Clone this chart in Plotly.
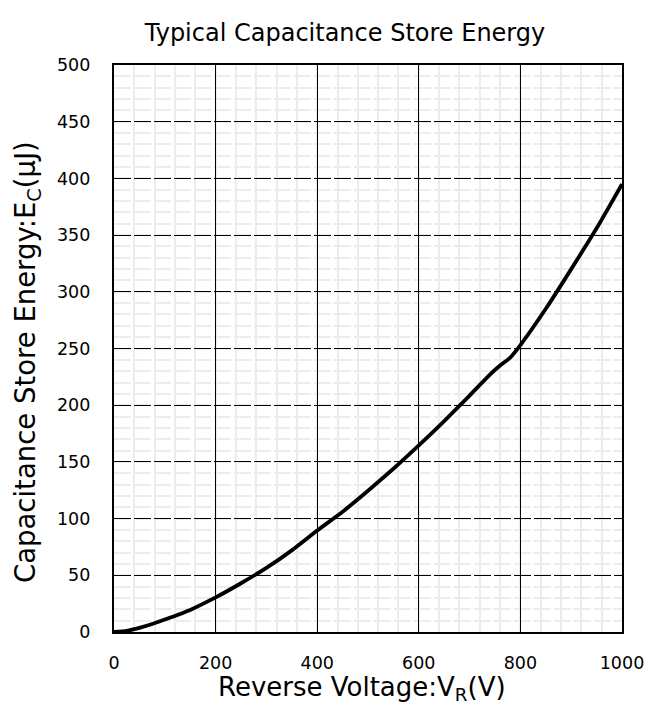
import plotly.graph_objects as go

voltage = [0, 25, 50, 75, 100, 150, 200, 250, 300, 350, 400, 450, 500, 550, 600,
           650, 700, 740, 760, 780, 800, 850, 900, 950, 1000]
energy = [0, 1, 3.6, 7, 11, 19.5, 30.5, 43, 56.5, 72, 89.5, 106, 124.5, 144, 164.5,
          186, 208.5, 227, 235, 242, 253, 285, 320, 356, 395]

x_ticks = [0, 200, 400, 600, 800, 1000]
y_ticks = [0, 50, 100, 150, 200, 250, 300, 350, 400, 450, 500]

FONT = "DejaVu Sans"
W, H = 653, 696  # page body adds an 8px offset
L, R, T, B = 106, 39, 57, 72
PW, PH = W - L - R, H - T - B

fig = go.Figure()
fig.add_trace(go.Scatter(x=voltage, y=energy, mode="lines",
                         line=dict(color="black", width=3.8, shape="spline", smoothing=0.5),
                         showlegend=False, hoverinfo="skip"))

fig.update_layout(
    width=W, height=H,
    margin=dict(l=L, r=R, t=T, b=B, autoexpand=False),
    paper_bgcolor="white", plot_bgcolor="white",
    font=dict(family=FONT, color="black"),
    title=dict(text="Typical Capacitance Store Energy", x=337 / W, xanchor="center",
               y=1 - 25 / H, yanchor="middle", font=dict(size=24, family=FONT, color="black")),
    annotations=[
        dict(text="Reverse Voltage:V<sub>R</sub>(V)", xref="paper", yref="paper",
             x=(354 - L) / PW, y=(H - B - 680) / PH, xanchor="center", yanchor="middle",
             showarrow=False, font=dict(size=26, family=FONT, color="black")),
        dict(text="Capacitance Store Energy:E<sub>C</sub>(μJ)", xref="paper", yref="paper",
             x=(19 - L) / PW, y=(H - B - 354) / PH, xanchor="center", yanchor="middle",
             textangle=-90, showarrow=False, font=dict(size=27.5, family=FONT, color="black")),
    ],
)
fig.update_xaxes(
    range=[0, 1000], tickvals=x_ticks, ticktext=[str(v) for v in x_ticks],
    showgrid=True, gridcolor="black", gridwidth=1.3,
    minor=dict(dtick=40, tick0=0, showgrid=True, gridcolor="#ececec", gridwidth=2),
    showline=True, linecolor="black", linewidth=2.2, mirror=True,
    zeroline=False, ticks="", ticklabelstandoff=14, automargin=False,
    tickfont=dict(size=17.5, family=FONT, color="black"),
)
fig.update_yaxes(
    range=[0, 500], tickvals=y_ticks, ticktext=[str(v) for v in y_ticks],
    showgrid=True, gridcolor="black", gridwidth=1.3, griddash="17px,3px",
    minor=dict(dtick=10, tick0=0, showgrid=True, gridcolor="#ececec", gridwidth=2),
    showline=True, linecolor="black", linewidth=2.2, mirror=True,
    zeroline=False, ticks="", ticklabelstandoff=18, automargin=False,
    tickfont=dict(size=17.5, family=FONT, color="black"),
)

fig.write_html("out.html")
